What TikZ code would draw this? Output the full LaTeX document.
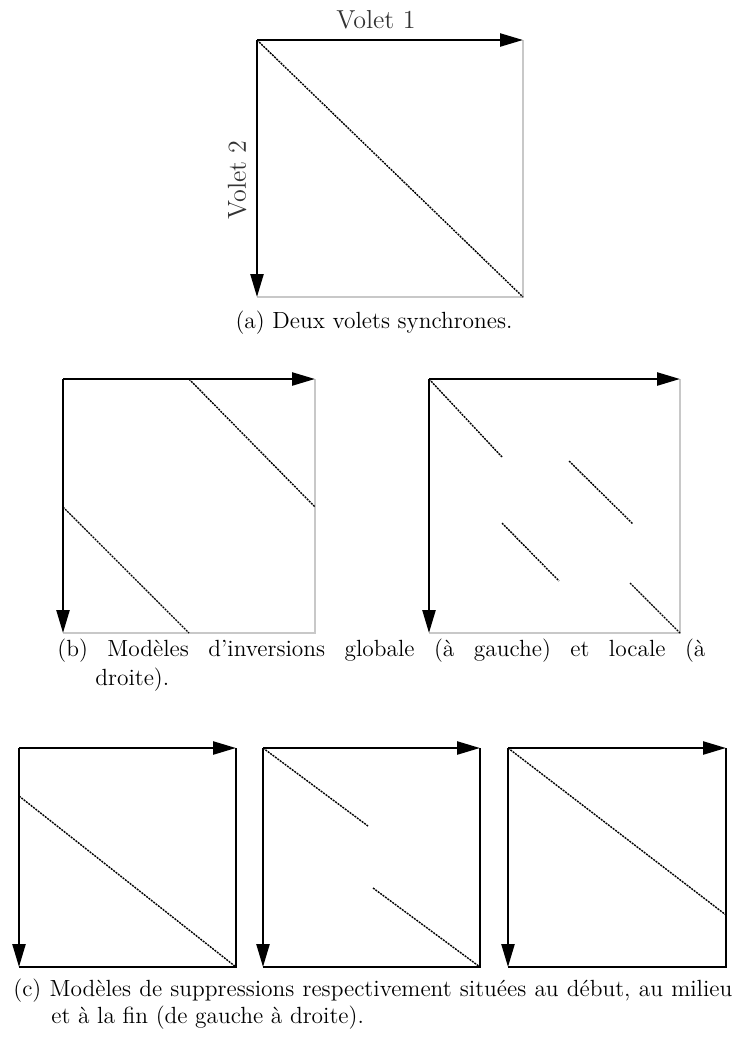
\documentclass[tikz,border=0pt]{standalone}
\usepackage{xcolor}
\usepackage{tikz}
\usetikzlibrary{arrows.meta,backgrounds}
\pgfdeclarelayer{edgelayer}
\pgfdeclarelayer{nodelayer}
\pgfsetlayers{background,edgelayer,nodelayer,main}
\tikzstyle{none}=[inner sep=0mm]
\tikzstyle{axis}=[line width=1.2pt,-{Triangle[length=11.5pt,width=6.5pt]}]
\tikzstyle{grey edge}=[line width=0.6pt,draw={rgb,255:red,200;green,200;blue,200}]
\tikzstyle{black edge}=[line width=0.6pt,draw=black]
\tikzstyle{diag}=[line width=0.7pt,draw=black,dash pattern=on 1pt off 0.5pt]
\tikzstyle{legend}=[inner sep=0mm,anchor=base west,font={\fontsize{11.7}{14}\selectfont}]
\tikzstyle{volet}=[inner sep=0mm,text=black!80,font={\fontsize{13}{15}\selectfont}]

\begin{document}
\begin{tikzpicture}[x=0.5pt,y=-0.5pt]
	\useasboundingbox (0,0) rectangle (734,1039);
	\begin{pgfonlayer}{nodelayer}
		% (a)
		\node [style=none] (a0) at (257, 40) {};
		\node [style=none] (a1) at (523, 40) {};
		\node [style=none] (a2) at (257, 297) {};
		\node [style=none] (a3) at (523, 297) {};
		\node [style=volet] (v1) at (376, 20) {Volet 1};
		\node [style=volet,rotate=90] (v2) at (237, 180) {Volet 2};
		\node [style=legend,anchor=base] (capa) at (374, 328) {(a) Deux volets synchrones.};
		% (b) gauche
		\node [style=none] (bl0) at (63, 379) {};
		\node [style=none] (bl1) at (315, 379) {};
		\node [style=none] (bl2) at (63, 633) {};
		\node [style=none] (bl3) at (315, 633) {};
		\node [style=none] (bl4) at (189, 379) {};
		\node [style=none] (bl5) at (315, 507) {};
		\node [style=none] (bl6) at (63, 507) {};
		\node [style=none] (bl7) at (189, 633) {};
		% (b) droite
		\node [style=none] (br0) at (429, 379) {};
		\node [style=none] (br1) at (680, 379) {};
		\node [style=none] (br2) at (429, 633) {};
		\node [style=none] (br3) at (680, 633) {};
		\node [style=none] (br4) at (502, 457) {};
		\node [style=none] (br5) at (569, 461) {};
		\node [style=none] (br6) at (633, 524) {};
		\node [style=none] (br7) at (502, 523) {};
		\node [style=none] (br8) at (559, 581) {};
		\node [style=none] (br9) at (630, 583) {};
		\node [style=legend] (capb1) at (57, 656) {\makebox[324pt][s]{(b) Modèles d'inversions globale (à gauche) et locale (à}};
		\node [style=legend] (capb2) at (95, 685) {droite).};
		% (c) debut
		\node [style=none] (c0) at (19, 748) {};
		\node [style=none] (c1) at (236, 748) {};
		\node [style=none] (c2) at (19, 967) {};
		\node [style=none] (c3) at (236, 967) {};
		\node [style=none] (c4) at (19, 796) {};
		% (c) milieu
		\node [style=none] (d0) at (263, 748) {};
		\node [style=none] (d1) at (480, 748) {};
		\node [style=none] (d2) at (263, 967) {};
		\node [style=none] (d3) at (480, 967) {};
		\node [style=none] (d4) at (368, 826) {};
		\node [style=none] (d5) at (373, 888) {};
		% (c) fin
		\node [style=none] (f0) at (508, 748) {};
		\node [style=none] (f1) at (726, 748) {};
		\node [style=none] (f2) at (508, 967) {};
		\node [style=none] (f3) at (726, 967) {};
		\node [style=none] (f4) at (726, 915) {};
		\node [style=legend] (capc1) at (13, 996) {\makebox[359.5pt][s]{(c) Modèles de suppressions respectivement situées au début, au milieu}};
		\node [style=legend] (capc2) at (51, 1023) {et à la fin (de gauche à droite).};
	\end{pgfonlayer}
	\begin{pgfonlayer}{edgelayer}
		\draw [style=grey edge] (a1.center) to (a3.center) to (a2.center);
		\draw [style=diag] (a0.center) to (a3.center);
		\draw [style=axis] (a0.center) to (a1.center);
		\draw [style=axis] (a0.center) to (a2.center);

		\draw [style=grey edge] (bl1.center) to (bl3.center) to (bl2.center);
		\draw [style=diag] (bl4.center) to (bl5.center);
		\draw [style=diag] (bl6.center) to (bl7.center);
		\draw [style=axis] (bl0.center) to (bl1.center);
		\draw [style=axis] (bl0.center) to (bl2.center);

		\draw [style=grey edge] (br1.center) to (br3.center) to (br2.center);
		\draw [style=diag] (br0.center) to (br4.center);
		\draw [style=diag] (br5.center) to (br6.center);
		\draw [style=diag] (br7.center) to (br8.center);
		\draw [style=diag] (br9.center) to (br3.center);
		\draw [style=axis] (br0.center) to (br1.center);
		\draw [style=axis] (br0.center) to (br2.center);

		\draw [style=black edge] (c1.center) to (c3.center) to (c2.center);
		\draw [style=diag] (c4.center) to (c3.center);
		\draw [style=axis] (c0.center) to (c1.center);
		\draw [style=axis] (c0.center) to (c2.center);

		\draw [style=black edge] (d1.center) to (d3.center) to (d2.center);
		\draw [style=diag] (d0.center) to (d4.center);
		\draw [style=diag] (d5.center) to (d3.center);
		\draw [style=axis] (d0.center) to (d1.center);
		\draw [style=axis] (d0.center) to (d2.center);

		\draw [style=black edge] (f1.center) to (f3.center) to (f2.center);
		\draw [style=diag] (f0.center) to (f4.center);
		\draw [style=axis] (f0.center) to (f1.center);
		\draw [style=axis] (f0.center) to (f2.center);
	\end{pgfonlayer}
\end{tikzpicture}
\end{document}
